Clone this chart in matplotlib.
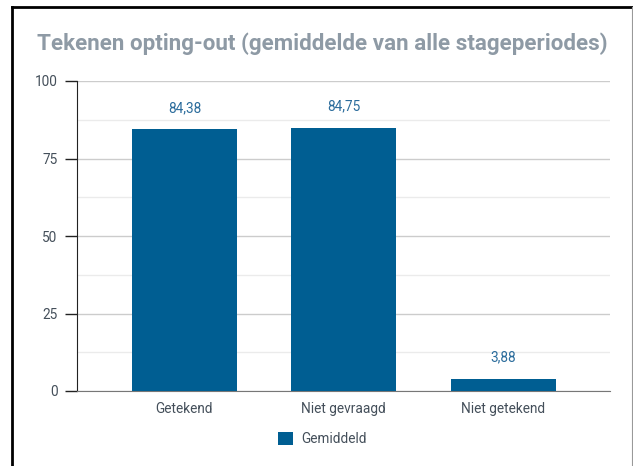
import matplotlib.pyplot as plt
import numpy as np

plt.rcParams['font.family'] = ['Roboto', 'DejaVu Sans']

categories = ["Getekend", "Niet gevraagd", "Niet getekend"]
gemiddeld = [84.38, 84.75, 3.88]
labels = ["84,38", "84,75", "3,88"]

bar_color = "#005e92"
text_color = "#444f5a"

fig = plt.figure(figsize=(6.33, 4.66), dpi=100)
ax = fig.add_axes([77 / 633, 1 - 391 / 466, (610 - 77) / 633, (391 - 81) / 466])

x = np.arange(len(categories))
bars = ax.bar(x, gemiddeld, width=0.66, color=bar_color, label="Gemiddeld", zorder=3)

for b, lab in zip(bars, labels):
    ax.annotate(lab, (b.get_x() + b.get_width() / 2, b.get_height()),
                xytext=(0, 10.5), textcoords="offset points", ha="center", va="bottom",
                fontsize=9.8, color="#2b6c9c")

ax.set_xlim(-0.674, 2.67)
ax.set_ylim(0, 100)
ax.set_yticks([0, 25, 50, 75, 100])
ax.set_yticks([12.5, 37.5, 62.5, 87.5], minor=True)
ax.set_xticks(x)
ax.set_xticklabels(categories)
ax.grid(axis="y", which="major", color="#cccccc", linewidth=1, zorder=0)
ax.grid(axis="y", which="minor", color="#ebebeb", linewidth=1, zorder=0)
ax.tick_params(axis="y", which="major", length=9, width=1, color="#222222",
               labelsize=9.8, labelcolor=text_color, pad=5)
ax.tick_params(axis="y", which="minor", length=0)
ax.tick_params(axis="x", length=0, labelsize=9.8, labelcolor=text_color, pad=8)
for s in ["top", "right"]:
    ax.spines[s].set_visible(False)
ax.spines["left"].set_color("#222222")
ax.spines["bottom"].set_color("#777777")

fig.text(37 / 633, 1 - 44 / 466, "Tekenen opting-out (gemiddelde van alle stageperiodes)",
         fontsize=16.1, fontweight="bold", color="#8e9aa5", va="center", ha="left")

leg = fig.legend(loc="center", bbox_to_anchor=(322 / 633, 1 - 439 / 466), frameon=False,
                 fontsize=9.8, handlelength=1.1, handleheight=1.1, handletextpad=0.6,
                 labelcolor=text_color)

# outer frame (left, top, right edges)
fig.add_artist(plt.Line2D([11.5 / 633, 11.5 / 633], [0, 1 - 6.5 / 466], color="black", linewidth=2,
                          transform=fig.transFigure))
fig.add_artist(plt.Line2D([11.5 / 633, 632 / 633], [1 - 6.5 / 466, 1 - 6.5 / 466], color="black",
                          linewidth=2, transform=fig.transFigure))
fig.add_artist(plt.Line2D([631.5 / 633, 631.5 / 633], [0, 1 - 6.5 / 466], color="#999999",
                          linewidth=0.8, transform=fig.transFigure))

fig.savefig("out.png", dpi=100)
